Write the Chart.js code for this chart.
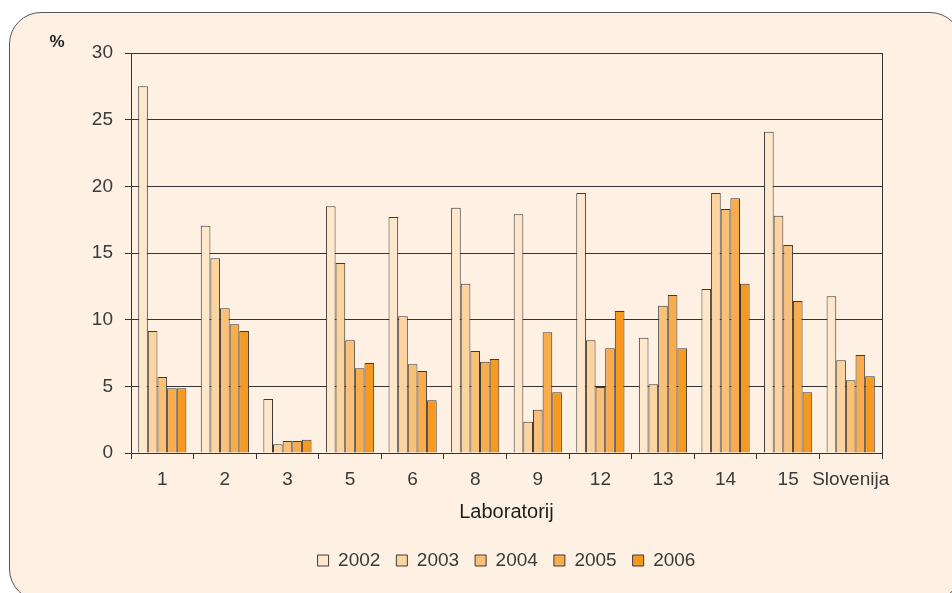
<!DOCTYPE html>
<html>
<head>
<meta charset="utf-8">
<script src="https://cdn.jsdelivr.net/npm/chart.js@4.4.1/dist/chart.umd.min.js"></script>
<style>
  html, body { margin: 0; padding: 0; background: #fff; overflow: hidden; }
  #frame {
    position: absolute; left: 9px; top: 12px; width: 951px; height: 587px;
    border: 1.5px solid #555; border-radius: 32px; background: #fef1e3;
  }
  #wrap { position: absolute; left: 0; top: 0; width: 952px; height: 593px; }
</style>
</head>
<body>
<div id="frame"></div>
<div id="wrap"><canvas id="chart" width="952" height="593"></canvas></div>
<script>
// podatki po laboratorijih (%)
const labs = ['1', '2', '3', '5', '6', '8', '9', '12', '13', '14', '15', 'Slovenija'];
const years = ['2002', '2003', '2004', '2005', '2006'];
const v2002 = [27.5, 17.05, 4.05, 18.5, 17.7, 18.4, 17.9, 19.5, 8.65, 12.3, 24.1, 11.75];
const v2003 = [9.15, 14.6, 0.65, 14.25, 10.25, 12.7, 2.35, 8.45, 5.15, 19.5, 17.8, 6.95];
const v2004 = [5.7, 10.85, 0.9, 8.45, 6.65, 7.65, 3.25, 4.95, 11.05, 18.3, 15.6, 5.45];
const v2005 = [4.85, 9.65, 0.9, 6.35, 6.15, 6.85, 9.05, 7.85, 11.85, 19.1, 11.4, 7.35];
const v2006 = [4.85, 9.15, 1.0, 6.75, 3.95, 7.05, 4.55, 10.65, 7.85, 12.7, 4.55, 5.75];
const yTicks = [0, 5, 10, 15, 20, 25, 30];

const series = [v2002, v2003, v2004, v2005, v2006];
const colors = ['#ffe7cb', '#fdd39f', '#fbc078', '#f9ac4e', '#f7991f'];
const ink = '#333';

Chart.defaults.font.family = "'Liberation Sans', Arial, sans-serif";
Chart.defaults.font.size = 19;
Chart.defaults.color = '#3a3a3a';

// znak % nad osjo y
const percentLabel = {
    id: 'percentLabel',
    afterDraw(chart) {
        const ctx = chart.ctx;
        const a = chart.chartArea;
        ctx.save();
        ctx.font = "bold 17px 'Liberation Sans', sans-serif";
        ctx.fillStyle = '#222';
        ctx.textAlign = 'center';
        ctx.textBaseline = 'middle';
        ctx.fillText('%', a.left - 74, a.top - 11);
        ctx.restore();
    }
};

new Chart(document.getElementById('chart'), {
    type: 'bar',
    data: {
        labels: labs,
        datasets: series.map((d, i) => ({
            label: years[i],
            data: d,
            backgroundColor: colors[i],
            borderColor: '#3a3a3a',
            borderWidth: 1,
            barPercentage: 1,
            categoryPercentage: 0.77
        }))
    },
    options: {
        responsive: false,
        animation: false,
        layout: { padding: { left: 61, right: 0, top: 53, bottom: 13 } },
        plugins: {
            legend: {
                position: 'bottom',
                labels: { boxWidth: 11, boxHeight: 11, padding: 16, color: '#3a3a3a' }
            },
            tooltip: { enabled: false }
        },
        scales: {
            x: {
                grid: { drawOnChartArea: false, tickLength: 6, color: ink },
                border: { color: ink },
                ticks: { maxRotation: 0, autoSkip: false, padding: 9 },
                title: {
                    display: true, text: 'Laboratorij', color: '#1e1e1e',
                    font: { size: 20 },
                    padding: { top: 4, bottom: 11 }
                },
                afterFit(scale) { scale.height = 82; }
            },
            y: {
                min: 0, max: 30,
                afterBuildTicks(scale) { scale.ticks = yTicks.map(v => ({ value: v })); },
                grid: { color: ink, tickLength: 6 },
                border: { display: true, color: ink },
                ticks: { padding: 12 },
                afterFit(scale) { scale.width = 70; }
            },
            y2: {
                position: 'right', min: 0, max: 30,
                grid: { drawOnChartArea: false, drawTicks: false },
                border: { display: true, color: ink },
                ticks: { display: false },
                afterFit(scale) { scale.width = 70; }
            }
        }
    },
    plugins: [percentLabel]
});
</script>
</body>
</html>
